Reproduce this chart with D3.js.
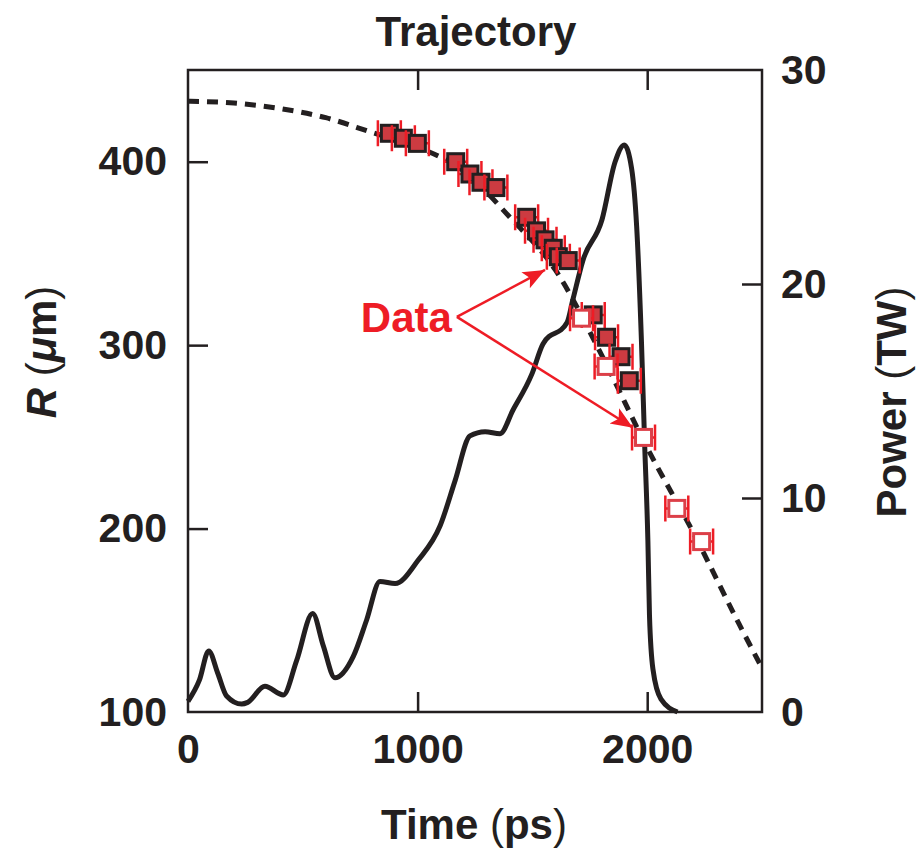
<!DOCTYPE html>
<html>
<head>
<meta charset="utf-8">
<script src="https://cdn.jsdelivr.net/npm/d3@7"></script>
<style>
  body { margin: 0; background: #fff; }
  svg { display: block; font-family: "Liberation Sans", Arial, Helvetica, sans-serif; }
  .axis path { display: none; }
  .axis line { stroke: #231f20; stroke-width: 2.5px; }
  .axis text { font-size: 41px; font-weight: bold; fill: #231f20; }
</style>
</head>
<body>
<svg id="chart" width="924" height="850"></svg>
<script>
// simulated trajectory (dashed)
var trajTime = [0, 200, 400, 600, 800, 1000, 1200, 1400, 1600, 1800, 2000, 2200, 2400, 2500];
var trajR    = [433, 432, 429, 424, 416, 408, 395, 370, 341, 295, 244, 198, 148, 124];

// laser power (solid, right axis)
var powerTime = [0, 50, 90, 130, 168, 234, 260, 335, 415, 473, 543, 589, 640, 720, 778, 836, 902, 1003,
                 1098, 1163, 1228, 1294, 1359, 1415, 1498, 1546, 1651, 1677, 1720, 1803, 1860, 1900,
                 1932, 1954, 1975, 1989, 2003, 2010, 2025, 2060, 2132];
var powerTW   = [0.5, 1.5, 2.85, 1.8, 0.75, 0.37, 0.45, 1.2, 0.8, 2.4, 4.6, 3.1, 1.6, 2.6, 4.3, 6.1, 6.0, 7.1,
                 8.7, 10.8, 12.9, 13.1, 13.0, 14.1, 15.8, 17.2, 18.2, 19.3, 21.1, 23.0, 25.7, 26.5,
                 25.4, 22.7, 17.3, 12.5, 8.0, 4.5, 2.0, 0.6, 0];

// measured radius, filled squares
var filledTime = [877, 938, 999, 1166, 1228, 1276, 1341, 1475, 1518, 1555, 1591, 1613, 1656, 1765, 1823, 1886, 1922];
var filledR    = [415.5, 412.8, 410, 400, 393.3, 388.8, 385.9, 369.7, 362.3, 357.4, 352.8, 348.2, 346.1, 316.5, 304.3, 293.7, 280.6];

// measured radius, open squares
var openTime = [1714, 1821, 1984, 2129, 2237];
var openR    = [314.7, 288.4, 249.7, 211, 192.9];

var timeErr = 50;

// "Data" annotation: label anchor and arrow tips (data units)
var labelPos = [1171, 315.4];
var arrowTips = [[1555, 341], [1938, 255]];

var xTicks = [0, 1000, 2000];
var rTicks = [100, 200, 300, 400];
var pTicks = [0, 10, 20, 30];

var margin = {top: 70, right: 162, bottom: 138, left: 188};
var width = 924 - margin.left - margin.right;
var height = 850 - margin.top - margin.bottom;

var svg = d3.select('#chart');
var g = svg.append('g').attr('transform', 'translate(' + margin.left + ',' + margin.top + ')');

var x = d3.scaleLinear().domain([0, 2500]).range([0, width]);
var yR = d3.scaleLinear().domain([100, 450]).range([height, 0]);
var yP = d3.scaleLinear().domain([0, 30]).range([height, 0]);

var dark = '#231f20';
var red = '#ee1c25';

// axes with inward ticks
g.append('g').attr('class', 'axis').attr('transform', 'translate(0,' + height + ')')
  .call(d3.axisBottom(x).tickValues(xTicks).tickSize(-20).tickPadding(22).tickFormat(d3.format('d')));
g.append('g').attr('class', 'axis')
  .call(d3.axisTop(x).tickValues([1000, 2000]).tickSize(-20).tickFormat(''));
g.append('g').attr('class', 'axis')
  .call(d3.axisLeft(yR).tickValues(rTicks).tickSize(-20).tickPadding(21));
g.append('g').attr('class', 'axis').attr('transform', 'translate(' + width + ',0)')
  .call(d3.axisRight(yP).tickValues(pTicks).tickSize(-20).tickPadding(19));

// hide tick lines that sit on the frame corners
g.selectAll('.axis .tick line').filter(function(d) {
  return d === 0 || d === 100 || d === 30;
}).remove();

g.append('rect')
  .attr('width', width).attr('height', height)
  .attr('fill', 'none').attr('stroke', dark).attr('stroke-width', 2.5);

var clip = svg.append('defs').append('clipPath').attr('id', 'clip');
clip.append('rect').attr('width', width).attr('height', height);

// trajectory
var traj = trajTime.map(function(t, i) { return [t, trajR[i]]; });
g.append('path')
  .datum(traj)
  .attr('clip-path', 'url(#clip)')
  .attr('fill', 'none')
  .attr('stroke', dark)
  .attr('stroke-width', 5)
  .attr('stroke-dasharray', '11,8')
  .attr('d', d3.line().curve(d3.curveMonotoneX)
    .x(function(d) { return x(d[0]); })
    .y(function(d) { return yR(d[1]); }));

// power
var power = powerTime.map(function(t, i) { return [t, powerTW[i]]; });
g.append('path')
  .datum(power)
  .attr('fill', 'none')
  .attr('stroke', dark)
  .attr('stroke-width', 5)
  .attr('stroke-linejoin', 'round')
  .attr('d', d3.line().curve(d3.curveMonotoneX)
    .x(function(d) { return x(d[0]); })
    .y(function(d) { return yP(d[1]); }));

// data points with horizontal error bars
function drawPoints(times, rs, fill, stroke) {
  var pts = times.map(function(t, i) { return {t: t, r: rs[i]}; });
  var pg = g.selectAll(null).data(pts).enter().append('g');
  pg.append('path')
    .attr('fill', 'none')
    .attr('stroke', red)
    .attr('stroke-width', 2.5)
    .attr('d', function(d) {
      var x0 = x(d.t - timeErr), x1 = x(d.t + timeErr), y = yR(d.r);
      return 'M' + x0 + ',' + y + 'H' + x1 +
        'M' + x0 + ',' + (y - 13) + 'V' + (y + 13) +
        'M' + x1 + ',' + (y - 13) + 'V' + (y + 13);
    });
  pg.append('rect')
    .attr('x', function(d) { return x(d.t) - 8; })
    .attr('y', function(d) { return yR(d.r) - 8; })
    .attr('width', 16).attr('height', 16)
    .attr('fill', fill)
    .attr('stroke', stroke)
    .attr('stroke-width', 3);
}
drawPoints(filledTime, filledR, '#cc3b41', dark);
drawPoints(openTime, openR, '#fff', '#dc3f48');

// annotation
svg.select('defs').append('marker')
  .attr('id', 'arrow')
  .attr('markerUnits', 'userSpaceOnUse')
  .attr('viewBox', '0 -10 24 20')
  .attr('markerWidth', 24).attr('markerHeight', 20)
  .attr('refX', 22).attr('refY', 0)
  .attr('orient', 'auto')
  .append('path')
  .attr('d', 'M0,-9L22,0L0,9L5,0Z')
  .attr('fill', red);

arrowTips.forEach(function(tip) {
  g.append('line')
    .attr('x1', x(labelPos[0])).attr('y1', yR(labelPos[1]))
    .attr('x2', x(tip[0])).attr('y2', yR(tip[1]))
    .attr('stroke', red).attr('stroke-width', 2.5)
    .attr('marker-end', 'url(#arrow)');
});
g.append('text')
  .attr('x', x(labelPos[0]) - 5).attr('y', yR(labelPos[1]) + 15)
  .attr('text-anchor', 'end')
  .attr('font-size', 42).attr('font-weight', 'bold')
  .attr('fill', red)
  .text('Data');

// titles
svg.append('text')
  .attr('x', 476).attr('y', 46)
  .attr('text-anchor', 'middle')
  .attr('font-size', 42).attr('font-weight', 'bold').attr('fill', dark)
  .text('Trajectory');

var xl = svg.append('text')
  .attr('x', 474).attr('y', 839)
  .attr('text-anchor', 'middle')
  .attr('font-size', 42).attr('font-weight', 'bold').attr('fill', dark);
xl.append('tspan').text('Time ');
xl.append('tspan').attr('font-weight', 'normal').text('(');
xl.append('tspan').text('ps');
xl.append('tspan').attr('font-weight', 'normal').text(')');

var yl = svg.append('text')
  .attr('transform', 'translate(56,352) rotate(-90)')
  .attr('text-anchor', 'middle')
  .attr('font-size', 42).attr('font-weight', 'bold').attr('fill', dark);
yl.append('tspan').attr('font-style', 'italic').text('R');
yl.append('tspan').attr('font-weight', 'normal').text(' (');
yl.append('tspan').attr('font-style', 'italic').text('\u03bc');
yl.append('tspan').text('m');
yl.append('tspan').attr('font-weight', 'normal').text(')');

var pl = svg.append('text')
  .attr('transform', 'translate(906,402) rotate(-90)')
  .attr('text-anchor', 'middle')
  .attr('font-size', 42).attr('font-weight', 'bold').attr('fill', dark);
pl.append('tspan').text('Power ');
pl.append('tspan').attr('font-weight', 'normal').text('(');
pl.append('tspan').text('TW');
pl.append('tspan').attr('font-weight', 'normal').text(')');
</script>
</body>
</html>
